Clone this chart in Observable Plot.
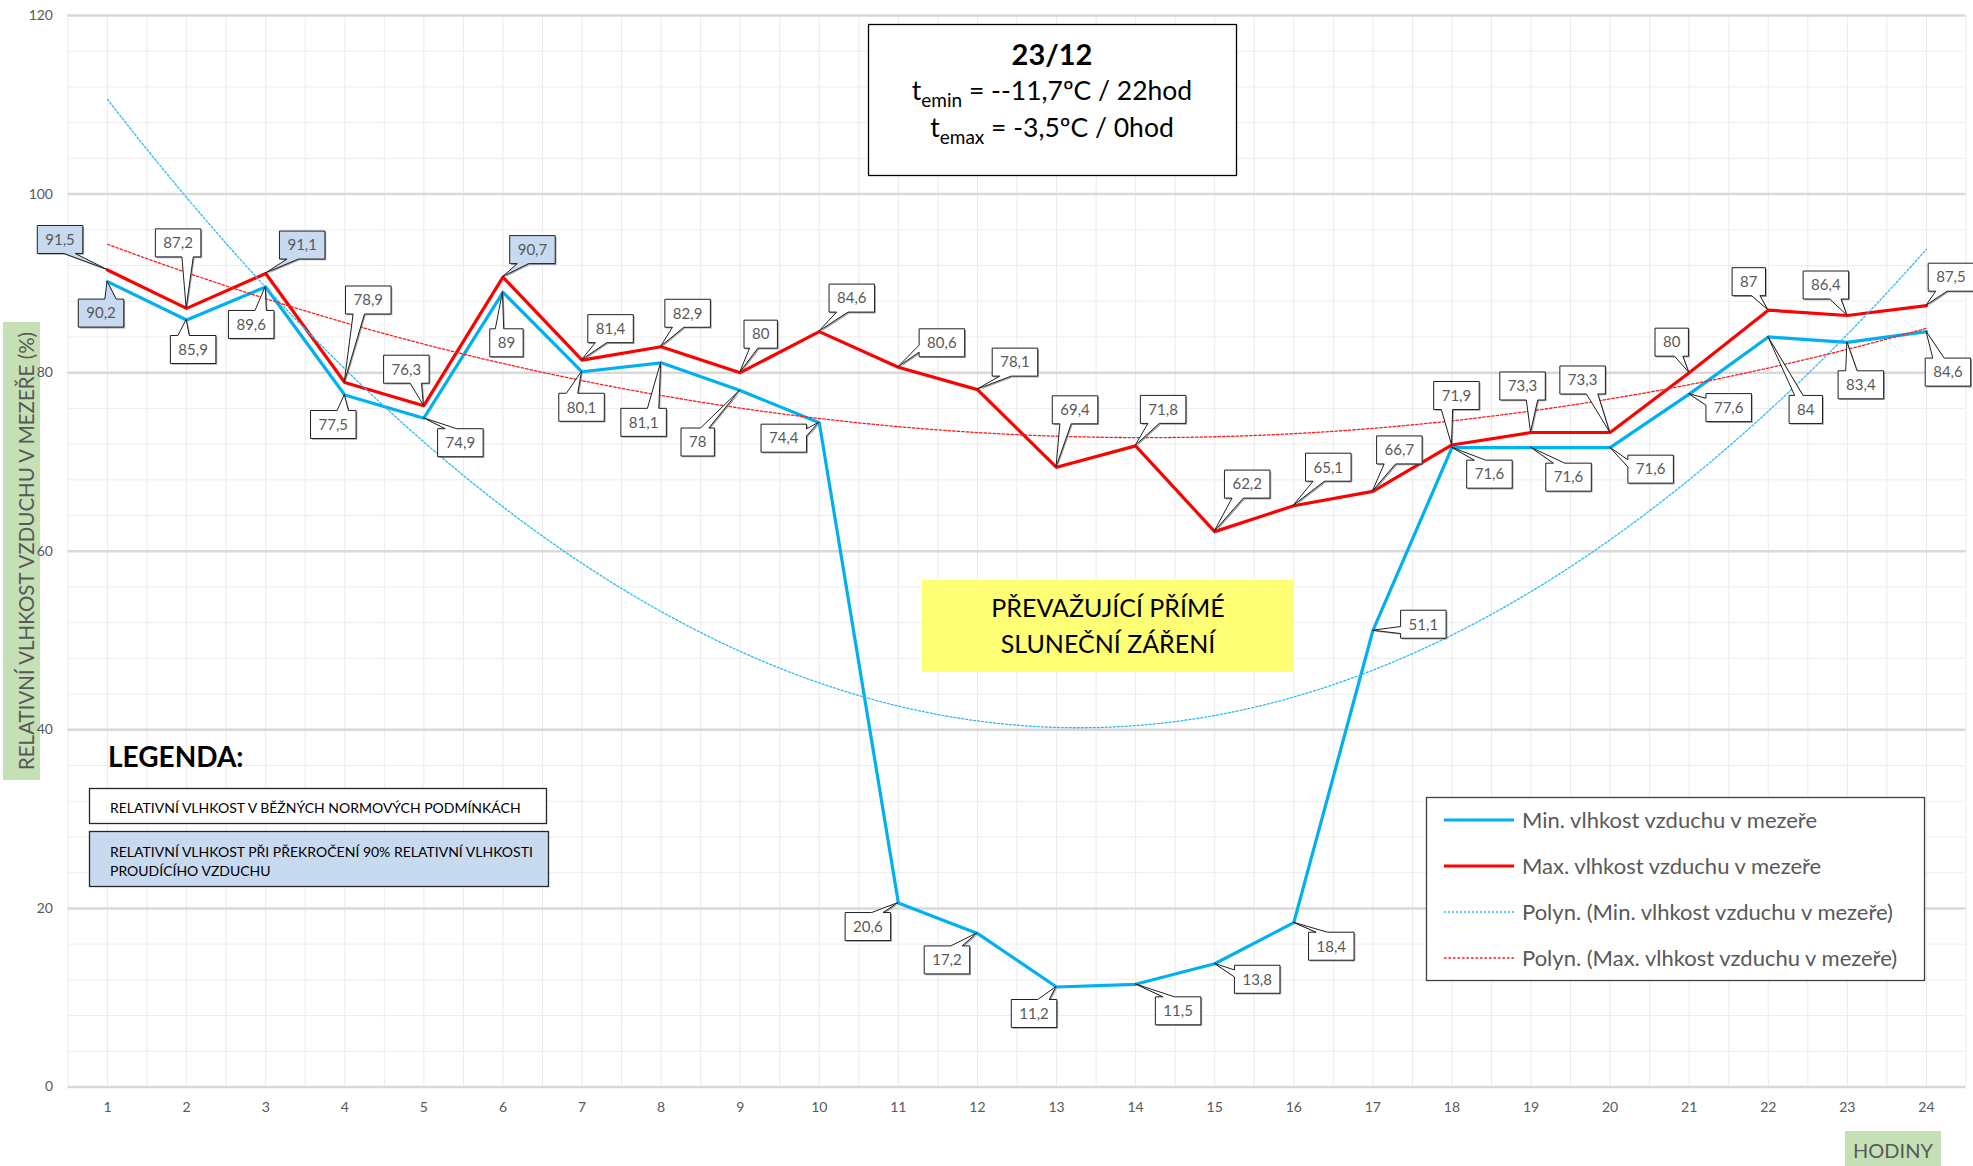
<!DOCTYPE html>
<html>
<head>
<meta charset="utf-8">
<script src="https://cdn.jsdelivr.net/npm/d3@7"></script>
<script src="https://cdn.jsdelivr.net/npm/@observablehq/plot@0.6"></script>
<style>
  html, body { margin: 0; padding: 0; background: #fff; }
  svg { display: block; }
</style>
</head>
<body>
<div id="chart"></div>
<script>
// ---------------- DATA ----------------
const hours = [1, 2, 3, 4, 5, 6, 7, 8, 9, 10, 11, 12, 13, 14, 15, 16, 17, 18, 19, 20, 21, 22, 23, 24];
const minHumidity = [90.2, 85.9, 89.6, 77.5, 74.9, 89, 80.1, 81.1, 78, 74.4, 20.6, 17.2, 11.2, 11.5, 13.8, 18.4, 51.1, 71.6, 71.6, 71.6, 77.6, 84, 83.4, 84.6];
const maxHumidity = [91.5, 87.2, 91.1, 78.9, 76.3, 90.7, 81.4, 82.9, 80, 84.6, 80.6, 78.1, 69.4, 71.8, 62.2, 65.1, 66.7, 71.9, 73.3, 73.3, 80, 87, 86.4, 87.5];
const yTicks = [0, 20, 40, 60, 80, 100, 120];
const highlightThreshold = 90;

const seriesNames = ["Min. vlhkost vzduchu v mezeře", "Max. vlhkost vzduchu v mezeře"];
const trendNames = ["Polyn. (Min. vlhkost vzduchu v mezeře)", "Polyn. (Max. vlhkost vzduchu v mezeře)"];
const titleDate = "23/12";
const yTitle = "RELATIVNÍ VLHKOST VZDUCHU V MEZEŘE (%)";
const xTitle = "HODINY";

// ---------------- LAYOUT (pixel offsets of data-label callouts, not data) ----------------
const maxLabelOffsets = [[-47,-30],[-8,-65],[37,-28],[24,-82],[-17,-36],[30,-27],[29,-31],[27,-33],[21,-38],[33,-33],[44,-24],[38,-27],[19,-57],[28,-36],[33,-47],[35,-38],[27,-41],[5,-49],[-8,-46],[-27,-52],[-17,-30],[-19,-28],[-21,-30],[25,-28]];
const minLabelOffsets = [[-6,32],[7,30],[-14,38],[-11,30],[37,25],[4,51],[0,36],[-17,60],[-42,52],[-35,16],[-30,24],[-30,27],[-22,27],[43,27],[43,16],[38,24],[51,-6],[38,27],[38,30],[41,22],[40,14],[38,73],[14,43],[22,41]];

const FONT = "Lato, 'Open Sans', sans-serif";
const BLUE = "#00b0f0", RED = "#ff0000";

// ---------------- polynomial (order 2) trendline, least squares ----------------
function polyfit2(xs, ys) {
  const S = [0,0,0,0,0], T = [0,0,0];
  xs.forEach((x, i) => {
    let p = 1;
    for (let k = 0; k < 5; k++) { S[k] += p; if (k < 3) T[k] += p * ys[i]; p *= x; }
  });
  const A = [[S[0],S[1],S[2],T[0]],[S[1],S[2],S[3],T[1]],[S[2],S[3],S[4],T[2]]];
  for (let c = 0; c < 3; c++) {
    for (let r = c + 1; r < 3; r++) {
      const f = A[r][c] / A[c][c];
      for (let k = c; k < 4; k++) A[r][k] -= f * A[c][k];
    }
  }
  const coef = [0,0,0];
  for (let r = 2; r >= 0; r--) {
    let s = A[r][3];
    for (let k = r + 1; k < 3; k++) s -= A[r][k] * coef[k];
    coef[r] = s / A[r][r];
  }
  return x => coef[0] + coef[1] * x + coef[2] * x * x;
}
const fitMin = polyfit2(hours, minHumidity);
const fitMax = polyfit2(hours, maxHumidity);
const trendX = d3.range(hours[0], hours[hours.length - 1] + 1e-9, 0.1);
const trendMin = trendX.map(x => ({x, y: fitMin(x)}));
const trendMax = trendX.map(x => ({x, y: fitMax(x)}));

const rows = hours.map((h, i) => ({hour: h, min: minHumidity[i], max: maxHumidity[i]}));

// grid helpers
const vGrid = d3.range(0.5, 24.5001, 0.5);
const minorY = d3.range(0, 120.001, 4).filter(v => v % 20 !== 0);

// ---------------- PLOT ----------------
const W = 1973, H = 1166;
const chart = Plot.plot({
  width: W,
  height: H,
  marginLeft: 67.5,
  marginRight: 7.5,
  marginTop: 15,
  marginBottom: 79.5,
  style: {fontFamily: FONT, fontSize: "14px", color: "#595959", background: "#ffffff", overflow: "visible"},
  x: {domain: [0.5, 24.5], ticks: hours, tickSize: 0, tickPadding: 15, tickFormat: d => String(d), label: null},
  y: {domain: [0, 120], ticks: yTicks, tickSize: 0, tickPadding: 15, label: null},
  marks: [
    Plot.ruleX(vGrid, {stroke: "#ebebeb", strokeWidth: 1}),
    Plot.ruleY(minorY, {stroke: "#ededed", strokeWidth: 1}),
    Plot.ruleY(yTicks, {stroke: "#d9d9d9", strokeWidth: 2.5}),
    Plot.line(rows, {x: "hour", y: "min", stroke: BLUE, strokeWidth: 3.2}),
    Plot.line(rows, {x: "hour", y: "max", stroke: RED, strokeWidth: 3.2}),
    Plot.line(trendMin, {x: "x", y: "y", stroke: "#2bbcf2", strokeWidth: 1.3, strokeDasharray: "2,2"}),
    Plot.line(trendMax, {x: "x", y: "y", stroke: "#ff1a1a", strokeWidth: 1.3, strokeDasharray: "2.5,2"})
  ]
});
document.getElementById("chart").appendChild(chart);

const sx = chart.scale("x"), sy = chart.scale("y");
const fx = sx.apply ? (v => sx.apply(v)) : d3.scaleLinear(sx.domain, sx.range);
const fy = sy.apply ? (v => sy.apply(v)) : d3.scaleLinear(sy.domain, sy.range);

const svg = d3.select(chart);
// background layer (under axes) for the green axis-title boxes
const under = svg.insert("g", ":first-child").attr("font-family", FONT);
const over = svg.append("g").attr("font-family", FONT).attr("text-anchor", "start");

// ---------------- callout (Excel wedgeRectCallout) ----------------
function calloutPath(cx, cy, w, h, tx, ty) {
  const l = cx - w / 2, t = cy - h / 2, r = cx + w / 2, b = cy + h / 2;
  const dxp = tx - cx, dyp = ty - cy;
  const dq = dxp * h / w;
  const dz = Math.abs(dyp) - Math.abs(dq);
  const x1 = l + w * (dxp > 0 ? 7 : 2) / 12, x2 = l + w * (dxp > 0 ? 10 : 5) / 12;
  const y1 = t + h * (dyp > 0 ? 7 : 2) / 12, y2 = t + h * (dyp > 0 ? 10 : 5) / 12;
  let p = `M${l},${t}`;
  if (dz > 0 && dyp < 0) p += `L${x1},${t}L${tx},${ty}L${x2},${t}`;
  p += `L${r},${t}`;
  if (dz <= 0 && dxp > 0) p += `L${r},${y1}L${tx},${ty}L${r},${y2}`;
  p += `L${r},${b}`;
  if (dz > 0 && dyp > 0) p += `L${x2},${b}L${tx},${ty}L${x1},${b}`;
  p += `L${l},${b}`;
  if (dz <= 0 && dxp < 0) p += `L${l},${y2}L${tx},${ty}L${l},${y1}`;
  return p + "Z";
}
const fmt = v => String(v).replace(".", ",");

function drawLabels(values, offsets) {
  values.forEach((v, i) => {
    const px = fx(hours[i]), py = fy(v);
    const cx = px + offsets[i][0], cy = py + offsets[i][1];
    const g = over.append("g");
    const sh = g.append("path");
    const bx = g.append("path");
    const tx = g.append("text")
      .attr("x", cx).attr("y", cy + 5.3)
      .attr("text-anchor", "middle")
      .attr("font-size", 15)
      .attr("fill", "#595959")
      .text(fmt(v));
    const tw = tx.node().getComputedTextLength();
    const w = tw + 16, h = 28;
    const d = calloutPath(cx, cy, w, h, px, py);
    sh.attr("d", d).attr("transform", "translate(1.3,1.3)").attr("fill", "#595959").attr("opacity", 0.55);
    bx.attr("d", d)
      .attr("fill", v > highlightThreshold ? "#c8daf0" : "#ffffff")
      .attr("stroke", "#1f1f1f").attr("stroke-width", 1).attr("stroke-linejoin", "miter");
  });
}
drawLabels(maxHumidity, maxLabelOffsets);
drawLabels(minHumidity, minLabelOffsets);

// ---------------- title box ----------------
over.append("rect").attr("x", 868.5).attr("y", 24.5).attr("width", 368).attr("height", 151)
  .attr("fill", "#fff").attr("stroke", "#000").attr("stroke-width", 1.3);
over.append("text").attr("x", 1052).attr("y", 65).attr("text-anchor", "middle")
  .attr("font-size", 29).attr("font-weight", "bold").attr("fill", "#000").text(titleDate);
const t1 = over.append("text").attr("x", 1052).attr("y", 100).attr("text-anchor", "middle")
  .attr("font-size", 26.5).attr("fill", "#000");
t1.append("tspan").text("t");
t1.append("tspan").attr("font-size", 19).attr("dy", 7).text("emin");
t1.append("tspan").attr("dy", -7).text(" = --11,7ºC / 22hod");
const t2 = over.append("text").attr("x", 1052).attr("y", 136.5).attr("text-anchor", "middle")
  .attr("font-size", 26.5).attr("fill", "#000");
t2.append("tspan").text("t");
t2.append("tspan").attr("font-size", 19).attr("dy", 7).text("emax");
t2.append("tspan").attr("dy", -7).text(" = -3,5ºC / 0hod");

// ---------------- yellow note ----------------
over.append("rect").attr("x", 922).attr("y", 580).attr("width", 372).attr("height", 92).attr("fill", "#ffff75");
over.append("text").attr("x", 1108).attr("y", 616.5).attr("text-anchor", "middle").attr("font-size", 25).attr("fill", "#000").text("PŘEVAŽUJÍCÍ PŘÍMÉ");
over.append("text").attr("x", 1108).attr("y", 652.5).attr("text-anchor", "middle").attr("font-size", 25).attr("fill", "#000").text("SLUNEČNÍ ZÁŘENÍ");

// ---------------- LEGENDA boxes ----------------
over.append("text").attr("x", 108).attr("y", 766.5).attr("font-size", 28).attr("font-weight", "bold").attr("fill", "#000").text("LEGENDA:");
over.append("rect").attr("x", 89.5).attr("y", 788.5).attr("width", 457).attr("height", 35)
  .attr("fill", "#fff").attr("stroke", "#262626").attr("stroke-width", 1.3);
over.append("text").attr("x", 110).attr("y", 813).attr("font-size", 14).attr("fill", "#000")
  .text("RELATIVNÍ VLHKOST V BĚŽNÝCH NORMOVÝCH PODMÍNKÁCH");
over.append("rect").attr("x", 89.5).attr("y", 831.5).attr("width", 459).attr("height", 55)
  .attr("fill", "#c8daf0").attr("stroke", "#262626").attr("stroke-width", 1.3);
over.append("text").attr("x", 110).attr("y", 856.5).attr("font-size", 14).attr("fill", "#000")
  .text("RELATIVNÍ VLHKOST PŘI PŘEKROČENÍ 90% RELATIVNÍ VLHKOSTI");
over.append("text").attr("x", 110).attr("y", 875.5).attr("font-size", 14).attr("fill", "#000")
  .text("PROUDÍCÍHO VZDUCHU");

// ---------------- series legend ----------------
over.append("rect").attr("x", 1426.5).attr("y", 797.5).attr("width", 498).attr("height", 183)
  .attr("fill", "#fff").attr("stroke", "#404040").attr("stroke-width", 1.3);
const legItems = [
  {name: seriesNames[0], color: BLUE, w: 3, dash: null},
  {name: seriesNames[1], color: RED, w: 3, dash: null},
  {name: trendNames[0], color: "#2bbcf2", w: 1.5, dash: "2,2"},
  {name: trendNames[1], color: "#ff1a1a", w: 1.5, dash: "2.5,2"}
];
legItems.forEach((it, i) => {
  const y = 820 + i * 46;
  const ln = over.append("line").attr("x1", 1444).attr("x2", 1514).attr("y1", y).attr("y2", y)
    .attr("stroke", it.color).attr("stroke-width", it.w);
  if (it.dash) ln.attr("stroke-dasharray", it.dash);
  over.append("text").attr("x", 1522).attr("y", y + 7.5).attr("font-size", 22).attr("fill", "#595959").text(it.name);
});

// ---------------- axis titles ----------------
under.append("rect").attr("x", 3).attr("y", 322).attr("width", 37).attr("height", 458).attr("fill", "#c5e0b4");
under.append("text").attr("transform", "translate(33.5,551) rotate(-90)").attr("text-anchor", "middle")
  .attr("font-size", 20.5).attr("fill", "#595959").text(yTitle);
under.append("rect").attr("x", 1845).attr("y", 1131).attr("width", 96).attr("height", 35).attr("fill", "#c5e0b4");
under.append("text").attr("x", 1893).attr("y", 1157.5).attr("text-anchor", "middle")
  .attr("font-size", 20).attr("fill", "#595959").text(xTitle);
</script>
</body>
</html>
